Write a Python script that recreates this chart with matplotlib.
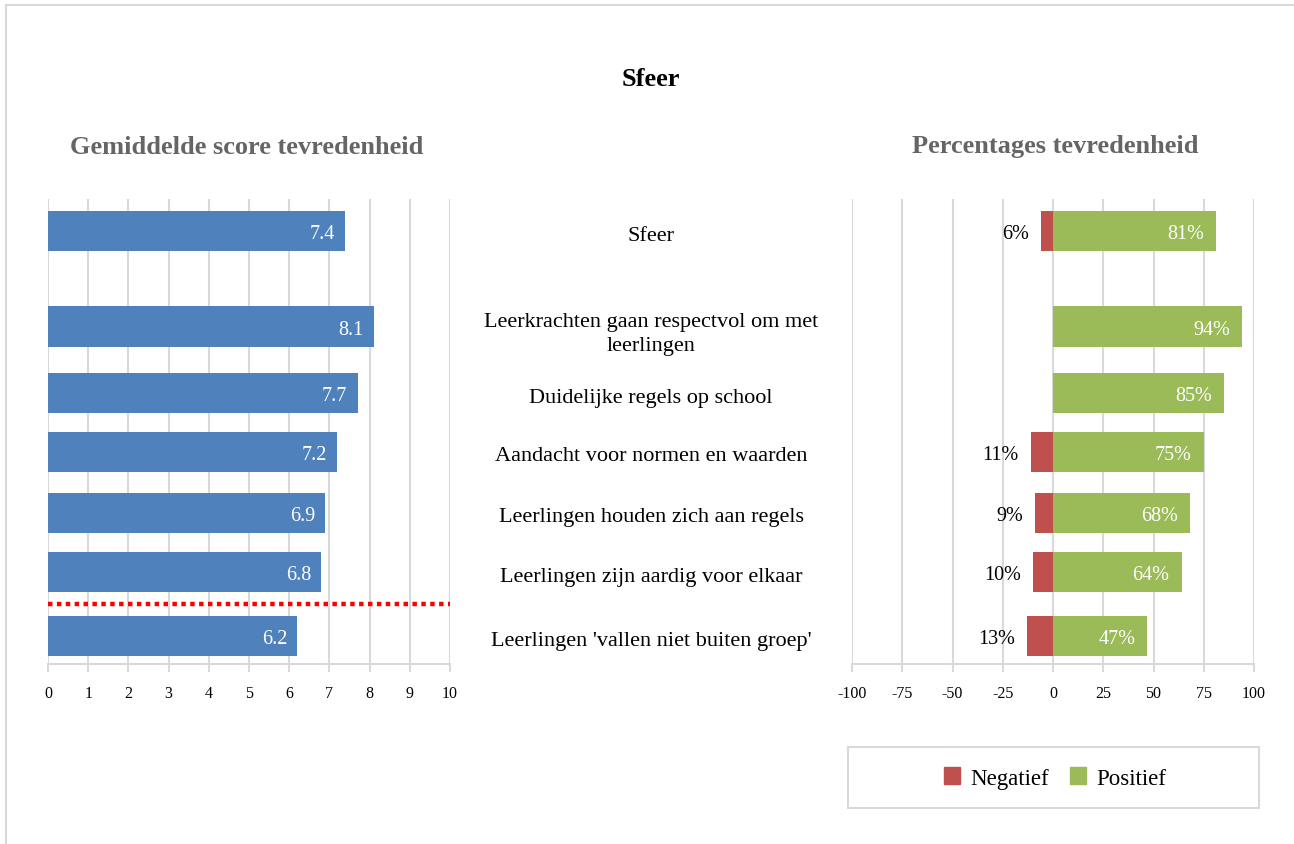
import matplotlib
matplotlib.use('Agg')
import matplotlib.pyplot as plt
import matplotlib.transforms as transforms
from matplotlib.patches import Rectangle, Patch
from matplotlib.lines import Line2D

plt.rcParams['font.family'] = ['Liberation Serif', 'DejaVu Serif']
plt.rcParams['axes.unicode_minus'] = False

categories = ['Sfeer',
              'Leerkrachten gaan respectvol om met\nleerlingen',
              'Duidelijke regels op school',
              'Aandacht voor normen en waarden',
              'Leerlingen houden zich aan regels',
              'Leerlingen zijn aardig voor elkaar',
              "Leerlingen 'vallen niet buiten groep'"]
scores = [7.4, 8.1, 7.7, 7.2, 6.9, 6.8, 6.2]
negatief = [6, 0, 0, 11, 9, 10, 13]
positief = [81, 94, 85, 75, 68, 64, 47]
norm_line = 6.11          # position of red dotted separator (row units)

score_ticks = list(range(0, 11))
pct_ticks = [-100, -75, -50, -25, 0, 25, 50, 75, 100]

# layout: row centres (Sfeer stands apart from the rest)
rows = [0, 1.57, 2.66, 3.62, 4.62, 5.59, 6.64]
bar_h = 0.66

blue = '#4F81BD'
red = '#C0504D'
green = '#9BBB59'
grid_c = '#D9D9D9'
sub_c = '#656565'

W, H = 1294, 845
fig = plt.figure(figsize=(W / 100, H / 100), dpi=100)

def fx(px):
    return px / W

def fy(py):
    return 1 - py / H

top, bottom = 200, 665
ax1 = fig.add_axes([fx(48), fy(bottom), fx(450) - fx(48), fy(top) - fy(bottom)])
ax2 = fig.add_axes([fx(852), fy(bottom), fx(1254) - fx(852), fy(top) - fy(bottom)])

for ax in (ax1, ax2):
    for s in ('top', 'right', 'left'):
        ax.spines[s].set_visible(False)
    ax.spines['bottom'].set_color(grid_c)
    ax.spines['bottom'].set_linewidth(1.5)
    ax.set_yticks([])
    ax.grid(axis='x', color=grid_c, linewidth=1.5)
    ax.set_axisbelow(True)
    ax.tick_params(axis='x', length=6, width=1.5, color=grid_c, labelsize=11.5,
                   pad=9, labelcolor='black')
    ax.set_ylim(7.10, -0.52)

# left: average scores
ax1.barh(rows, scores, height=bar_h, color=blue, zorder=2)
for r, v in zip(rows, scores):
    ax1.text(v - 0.25, r, '%.1f' % v, color='white', fontsize=14.5,
             ha='right', va='center_baseline', zorder=3)
ax1.axhline(norm_line, color='#FF0000', linestyle=(0, (1, 1)), linewidth=3.2, zorder=3)
ax1.set_xlim(0, 10)
ax1.set_xticks(score_ticks)

# right: percentages
ax2.barh(rows, [-n for n in negatief], height=bar_h, color=red, zorder=2)
ax2.barh(rows, positief, height=bar_h, color=green, zorder=2)
for r, n, p in zip(rows, negatief, positief):
    if n > 0:
        ax2.text(-n - 6, r, '%d%%' % n, color='black', fontsize=14.5,
                 ha='right', va='center_baseline')
    ax2.text(p - 6, r, '%d%%' % p, color='white', fontsize=14.5,
             ha='right', va='center_baseline', zorder=3)
ax2.set_xlim(-100, 100)
ax2.set_xticks(pct_ticks)

# category labels in the middle
trans = transforms.blended_transform_factory(fig.transFigure, ax1.transData)
for r, c in zip(rows, categories):
    fig.text(fx(651), r + 0.03, c, transform=trans, ha='center', va='center_baseline',
             fontsize=16, linespacing=1.35)

# titles
fig.text(fx(651), fy(80), 'Sfeer', ha='center', va='center', fontsize=19,
         fontweight='bold')
fig.text(fx(247), fy(147), 'Gemiddelde score tevredenheid', ha='center',
         va='center', fontsize=19, fontweight='bold', color=sub_c)
fig.text(fx(1055), fy(147), 'Percentages tevredenheid', ha='center',
         va='center', fontsize=19, fontweight='bold', color=sub_c)

# legend box
fig.patches.append(Rectangle((fx(848), fy(809)), fx(1259) - fx(848), fy(748) - fy(809),
                             transform=fig.transFigure, fill=False,
                             edgecolor=grid_c, linewidth=1.5))
handles = [Patch(color=red, label='Negatief'), Patch(color=green, label='Positief')]
fig.legend(handles=handles, loc='center', bbox_to_anchor=(fx(1055), fy(779)),
           ncol=2, frameon=False, fontsize=16.5, handlelength=0.7,
           handleheight=0.7, handletextpad=0.45, columnspacing=0.9)

# outer border (only top and left edges are visible)
fig.lines.append(Line2D([fx(6), 1], [fy(6), fy(6)], transform=fig.transFigure,
                        color=grid_c, linewidth=1.5))
fig.lines.append(Line2D([fx(6), fx(6)], [0, fy(6)], transform=fig.transFigure,
                        color=grid_c, linewidth=1.5))

fig.savefig('out.png', dpi=100, facecolor='white')
